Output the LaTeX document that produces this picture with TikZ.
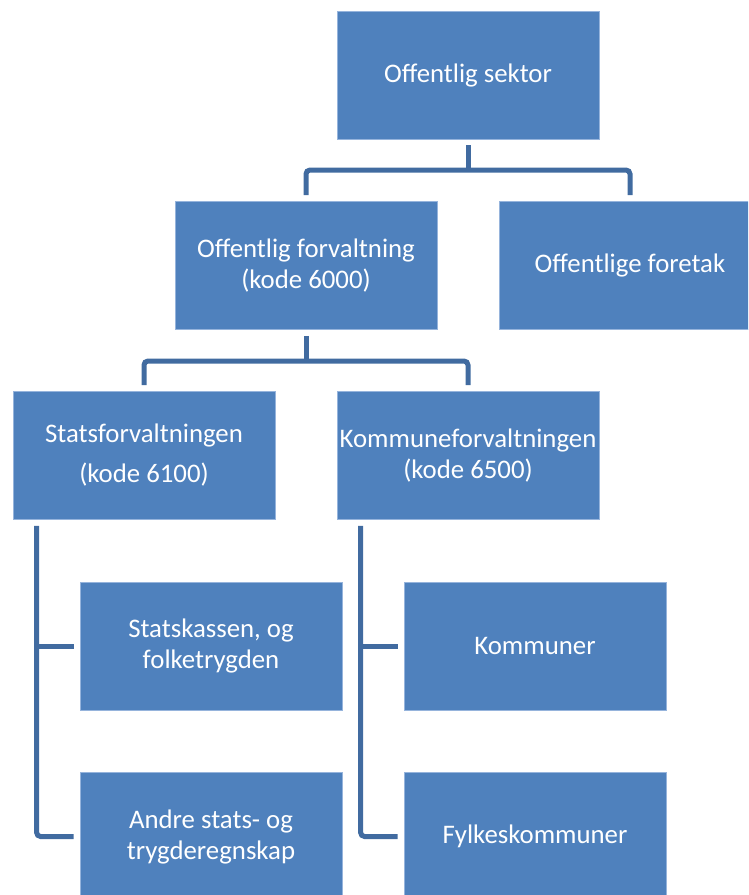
\documentclass[tikz,border=0pt]{standalone}
\usepackage{fontspec}
\setmainfont{Carlito}
\definecolor{boxblue}{RGB}{79,129,189}
\definecolor{boxedge}{RGB}{150,180,220}
\definecolor{linkblue}{RGB}{65,107,160}
\begin{document}
\begin{tikzpicture}[x=1pt,y=-1pt,
  orgbox/.style={rectangle, fill=boxblue, draw=boxedge, line width=0.8pt,
    minimum width=262pt, minimum height=128pt, inner sep=0pt,
    text=white, align=center, font=\fontsize{26.8}{31}\selectfont},
  conn/.style={draw=linkblue, line width=5pt, rounded corners=4pt}]
\useasboundingbox (0,0) rectangle (748,895);
\begin{scope}
\clip (0,0) rectangle (748,895);
% boxes of the hierarchy
\node[orgbox] (top)     at (468,75)    {Offentlig sektor};
\node[orgbox] (forv)    at (306,265.5) {Offentlig forvaltning\\(kode 6000)};
\node[orgbox] (foretak) at (630,265.5) {Offentlige foretak};
\node[orgbox] (stat)    at (144,455.5) {Statsforvaltningen\\[9pt](kode 6100)};
\node[orgbox] (komf)    at (468,455.5) {Kommuneforvaltningen\\(kode 6500)};
\node[orgbox] (skass)   at (211,646)   {Statskassen, og\\folketrygden};
\node[orgbox] (komm)    at (535,646)   {Kommuner};
\node[orgbox] (andre)   at (211,836.5) {Andre stats- og\\trygderegnskap};
\node[orgbox] (fylke)   at (535,836.5) {Fylkeskommuner};

% top level split
\coordinate (j1) at (468,170);
\draw[conn] ([yshift=-6pt]top.south) -- (j1);
\draw[conn] ([yshift=6pt]forv.north) |- (j1) -| ([yshift=6pt]foretak.north);

% second level split
\coordinate (j2) at (306,361);
\draw[conn] ([yshift=-6pt]forv.south) -- (j2);
\draw[conn] ([yshift=6pt]stat.north) |- (j2) -| ([yshift=6pt]komf.north);

% state branch
\coordinate (sv) at ([xshift=24pt,yshift=-6pt]stat.south west);
\draw[conn] (sv) |- ([xshift=-6pt]andre.west);
\draw[conn] ([xshift=-6pt]skass.west) -- (skass.west -| sv);

% municipal branch
\coordinate (kv) at ([xshift=24pt,yshift=-6pt]komf.south west);
\draw[conn] (kv) |- ([xshift=-6pt]fylke.west);
\draw[conn] ([xshift=-6pt]komm.west) -- (komm.west -| kv);
\end{scope}
\end{tikzpicture}
\end{document}
